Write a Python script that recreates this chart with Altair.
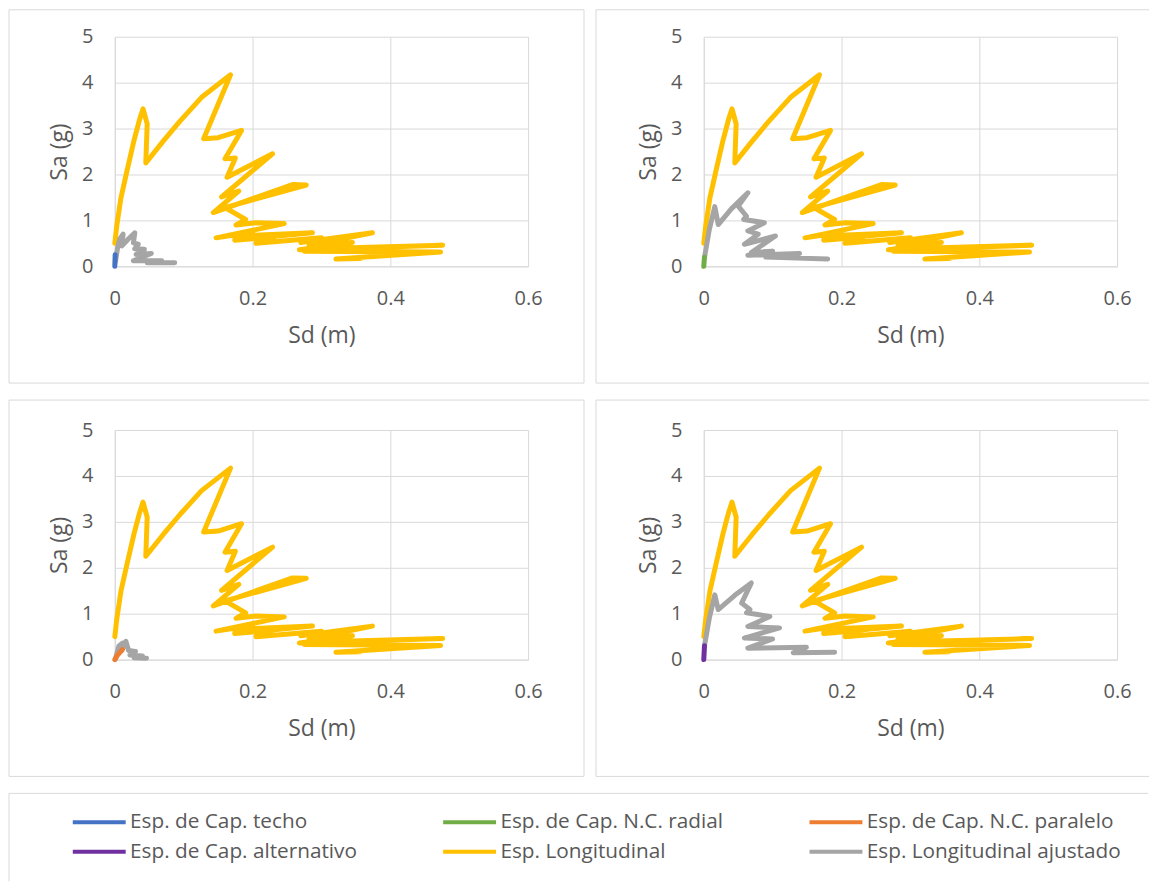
import altair as alt
import pandas as pd

SERIES = ["Esp. de Cap. techo", "Esp. de Cap. N.C. radial", "Esp. de Cap. N.C. paralelo",
          "Esp. de Cap. alternativo", "Esp. Longitudinal", "Esp. Longitudinal ajustado"]
COLORS = ["#4472C4", "#70AD47", "#ED7D31", "#7030A0", "#FFC000", "#A5A5A5"]

X_TICKS = [0, 0.2, 0.4, 0.6]
Y_TICKS = [0, 1, 2, 3, 4, 5]

# Esp. Longitudinal (same in all four panels)
YEL_SD = [0.000, 0.003, 0.009, 0.018, 0.028, 0.036, 0.041, 0.047, 0.045, 0.070, 0.094, 0.126,
          0.168, 0.129, 0.150, 0.184, 0.160, 0.175, 0.163, 0.229, 0.155, 0.180, 0.143, 0.258,
          0.278, 0.160, 0.190, 0.176, 0.205, 0.246, 0.147, 0.200, 0.172, 0.287, 0.174, 0.232,
          0.205, 0.300, 0.270, 0.374, 0.282, 0.345, 0.268, 0.476, 0.330, 0.410, 0.275, 0.473,
          0.321, 0.357]
YEL_SA = [0.50, 0.90, 1.50, 2.10, 2.75, 3.20, 3.43, 3.10, 2.25, 2.72, 3.15, 3.68,
          4.17, 2.78, 2.80, 2.96, 2.34, 2.36, 1.94, 2.45, 1.51, 1.64, 1.17, 1.78,
          1.77, 1.28, 1.02, 0.90, 0.95, 0.93, 0.62, 0.74, 0.66, 0.73, 0.57, 0.64,
          0.50, 0.62, 0.52, 0.73, 0.45, 0.52, 0.36, 0.46, 0.40, 0.43, 0.33, 0.31,
          0.16, 0.17]

# Esp. Longitudinal ajustado, one per panel
G1_SD = [0.001, 0.004, 0.007, 0.012, 0.010, 0.020, 0.029, 0.027, 0.034, 0.029, 0.043, 0.031,
         0.053, 0.027, 0.068, 0.047, 0.087]
G1_SA = [0.10, 0.40, 0.59, 0.70, 0.44, 0.60, 0.73, 0.51, 0.48, 0.38, 0.37, 0.26,
         0.28, 0.12, 0.12, 0.08, 0.08]
G2_SD = [0.001, 0.008, 0.016, 0.021, 0.040, 0.064, 0.050, 0.062, 0.058, 0.088, 0.064, 0.079,
         0.059, 0.104, 0.069, 0.100, 0.064, 0.139, 0.090, 0.180]
G2_SA = [0.19, 0.80, 1.30, 0.91, 1.25, 1.60, 1.31, 1.09, 1.02, 0.95, 0.77, 0.70,
         0.48, 0.66, 0.30, 0.33, 0.24, 0.28, 0.20, 0.16]
G3_SD = [0.001, 0.006, 0.011, 0.010, 0.016, 0.020, 0.030, 0.022, 0.040, 0.028, 0.046]
G3_SA = [0.02, 0.30, 0.36, 0.20, 0.40, 0.20, 0.18, 0.10, 0.08, 0.04, 0.03]
G4_SD = [0.001, 0.008, 0.016, 0.021, 0.045, 0.069, 0.055, 0.067, 0.062, 0.096, 0.064, 0.110,
         0.059, 0.100, 0.064, 0.149, 0.130, 0.190]
G4_SA = [0.30, 0.90, 1.41, 1.09, 1.40, 1.67, 1.23, 1.09, 1.02, 0.94, 0.72, 0.69,
         0.47, 0.45, 0.25, 0.27, 0.15, 0.16]

# Capacity spectra
TECHO_SD = [0.000, 0.0005]
TECHO_SA = [0.00, 0.25]
RADIAL_SD = [0.000, 0.001]
RADIAL_SA = [0.00, 0.20]
PARALELO_SD = [0.000, 0.004, 0.011]
PARALELO_SA = [0.00, 0.10, 0.22]
ALTERN_SD = [0.000, 0.001]
ALTERN_SA = [0.00, 0.30]

rows = []


def add(panel, series, sd, sa):
    for i, (x, y) in enumerate(zip(sd, sa)):
        rows.append({"panel": panel, "series": series, "idx": i, "sd": x, "sa": y})


PANELS = [
    (1, G1_SD, G1_SA, SERIES[0], TECHO_SD, TECHO_SA),
    (2, G2_SD, G2_SA, SERIES[1], RADIAL_SD, RADIAL_SA),
    (3, G3_SD, G3_SA, SERIES[2], PARALELO_SD, PARALELO_SA),
    (4, G4_SD, G4_SA, SERIES[3], ALTERN_SD, ALTERN_SA),
]
for p, gsd, gsa, cname, csd, csa in PANELS:
    add(p, SERIES[4], YEL_SD, YEL_SA)
    add(p, SERIES[5], gsd, gsa)
    add(p, cname, csd, csa)

df = pd.DataFrame(rows)
one = pd.DataFrame({"k": [0]})

BORDER = "#d9d9d9"
TEXT = "#595959"
FONT = "Open Sans"

legend = alt.Legend(
    orient="none", legendX=-26, legendY=776, columns=3, direction="horizontal", title=None,
    symbolType="M-5.3,0H5.3", symbolSize=100, symbolStrokeWidth=4,
    labelFont=FONT, labelFontSize=20.8, labelColor=TEXT, labelOffset=20.5, labelLimit=500,
    columnPadding=77, rowPadding=8, padding=0,
)


def panel(p, left, top):
    data = df[df.panel == p]
    lines = alt.Chart(data).mark_line(strokeWidth=5, strokeJoin="round", strokeCap="round").encode(
        x=alt.X("sd:Q", title="Sd (m)", scale=alt.Scale(domain=[0, 0.6], nice=False),
                axis=alt.Axis(values=X_TICKS, format="~g", labelPadding=22, titlePadding=16,
                              labelFlush=False)),
        y=alt.Y("sa:Q", title="Sa (g)", scale=alt.Scale(domain=[0, 5], nice=False),
                axis=alt.Axis(values=Y_TICKS, labelPadding=22, titlePadding=10, labelFlush=False)),
        color=alt.Color("series:N", scale=alt.Scale(domain=SERIES, range=COLORS), legend=legend),
        order="idx:Q",
    )
    if left:
        border = alt.Chart(one).mark_rect(fill="white", fillOpacity=0, stroke=BORDER, strokeWidth=1).encode(
            x=alt.value(-106), x2=alt.value(470), y=alt.value(top), y2=alt.value(347))
        layers = [border, lines]
    else:
        lrule = alt.Chart(one).mark_rule(color=BORDER, strokeWidth=1).encode(
            x=alt.value(-108), y=alt.value(top), y2=alt.value(347))
        trule = alt.Chart(one).mark_rule(color=BORDER, strokeWidth=1).encode(
            x=alt.value(-108), x2=alt.value(446), y=alt.value(top))
        brule = alt.Chart(one).mark_rule(color=BORDER, strokeWidth=1).encode(
            x=alt.value(-108), x2=alt.value(446), y=alt.value(347))
        layers = [lrule, trule, brule, lines]
    return alt.layer(*layers).properties(width=414, height=230)


LW, LH = 1035, 88
leg_left = alt.Chart(one).mark_rule(color=BORDER, strokeWidth=1).encode(
    x=alt.value(-106), y=alt.value(0), y2=alt.value(LH))
leg_top = alt.Chart(one).mark_rule(color=BORDER, strokeWidth=1).encode(
    x=alt.value(-106), x2=alt.value(LW), y=alt.value(0))
legend_box = alt.layer(leg_left, leg_top).properties(width=LW, height=LH)

row1 = alt.hconcat(panel(1, True, -27), panel(2, False, -27), spacing=10)
row2 = alt.hconcat(panel(3, True, -30), panel(4, False, -30), spacing=10)

chart = alt.vconcat(row1, row2, legend_box, spacing=15).properties(
    padding=0
).configure_view(
    strokeWidth=0
).configure_axis(
    labelFont=FONT, labelFontSize=20, labelColor=TEXT,
    titleFont=FONT, titleFontSize=23, titleFontWeight="normal", titleColor=TEXT,
    ticks=False, grid=True, gridColor=BORDER, gridWidth=1,
    domainColor=BORDER, domainWidth=1,
)

chart.save("out.html", embed_options={"renderer": "svg", "actions": False})
